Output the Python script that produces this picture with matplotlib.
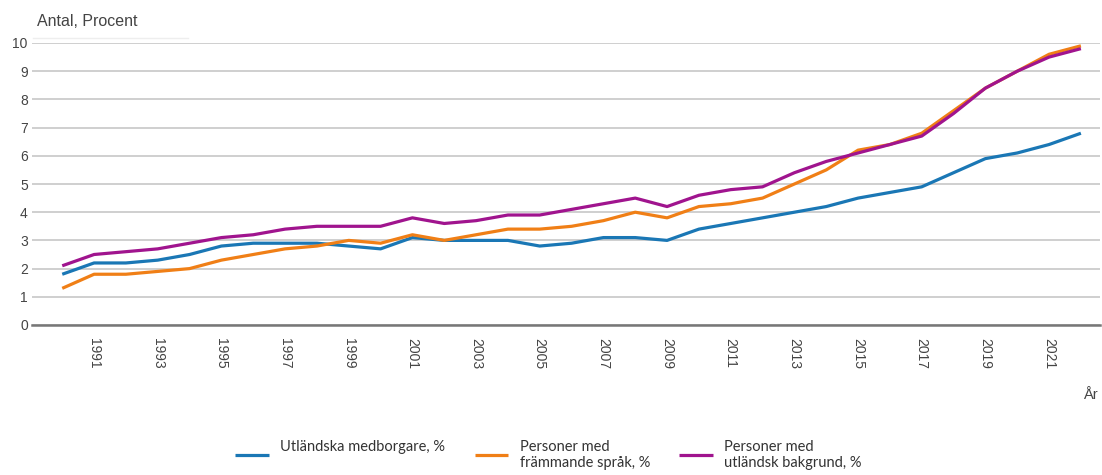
import matplotlib
matplotlib.use("Agg")
import matplotlib.pyplot as plt

years = list(range(1990, 2023))
utl_medborgare = [1.8, 2.2, 2.2, 2.3, 2.5, 2.8, 2.9, 2.9, 2.9, 2.8, 2.7, 3.1, 3.0, 3.0, 3.0, 2.8, 2.9,
                  3.1, 3.1, 3.0, 3.4, 3.6, 3.8, 4.0, 4.2, 4.5, 4.7, 4.9, 5.4, 5.9, 6.1, 6.4, 6.8]
framm_sprak = [1.3, 1.8, 1.8, 1.9, 2.0, 2.3, 2.5, 2.7, 2.8, 3.0, 2.9, 3.2, 3.0, 3.2, 3.4, 3.4, 3.5,
               3.7, 4.0, 3.8, 4.2, 4.3, 4.5, 5.0, 5.5, 6.2, 6.4, 6.8, 7.6, 8.4, 9.0, 9.6, 9.9]
utl_bakgrund = [2.1, 2.5, 2.6, 2.7, 2.9, 3.1, 3.2, 3.4, 3.5, 3.5, 3.5, 3.8, 3.6, 3.7, 3.9, 3.9, 4.1,
                4.3, 4.5, 4.2, 4.6, 4.8, 4.9, 5.4, 5.8, 6.1, 6.4, 6.7, 7.5, 8.4, 9.0, 9.5, 9.8]
labels = ["Utländska medborgare, %\n", "Personer med\nfrämmande språk, %", "Personer med\nutländsk bakgrund, %"]
colors = ["#1a77b5", "#f07f16", "#a0148e"]
xticks = list(range(1991, 2022, 2))

plt.rcParams['font.family'] = ['Liberation Sans', 'DejaVu Sans']

fig = plt.figure(figsize=(11.02, 4.75), dpi=100)
ax = fig.add_axes([32/1102, 1-325/475, 1068/1102, (325-43)/475])

lines = []
for vals, col, lab in zip([utl_medborgare, framm_sprak, utl_bakgrund], colors, labels):
    ln, = ax.plot(years, vals, color=col, lw=2.3, label=lab, clip_on=False, solid_capstyle='butt')
    lines.append(ln)

ax.set_xlim(1989.05, 2022.6)
ax.set_ylim(0, 10)
ax.set_yticks(range(0, 11))
ax.set_xticks(xticks)
ax.set_xticklabels([str(y) for y in xticks], rotation=270)
ax.grid(axis='y', color='#cccccc', lw=1.3)
ax.set_axisbelow(True)
for s in ['top', 'right', 'left']:
    ax.spines[s].set_visible(False)
ax.spines['bottom'].set_color('#777777')
ax.spines['bottom'].set_linewidth(1.8)
ax.tick_params(axis='both', length=0, labelsize=10, labelcolor='#444444')
ax.tick_params(axis='x', pad=9)
ax.tick_params(axis='y', pad=3)

fig.text(37/1102, 1-22/475, "Antal, Procent", fontsize=11.5, color='#444444', va='center')
fig.add_artist(plt.Line2D([33/1102, 188/1102], [1-38/475, 1-38/475], color='#eeeeee', lw=1))
fig.text(1083/1102, 1-395/475, "År", fontsize=10.5, color='#444444', va='center')

leg = fig.legend(handles=lines, labels=labels, loc='lower left', bbox_to_anchor=(222/1102, -8/475),
                 ncol=3, frameon=False, handlelength=2.3, handletextpad=0.8, columnspacing=2.0,
                 prop={'family': 'Lato', 'size': 10.5})
for t in leg.get_texts():
    t.set_color('#333333')

fig.savefig("out.png", dpi=100)
